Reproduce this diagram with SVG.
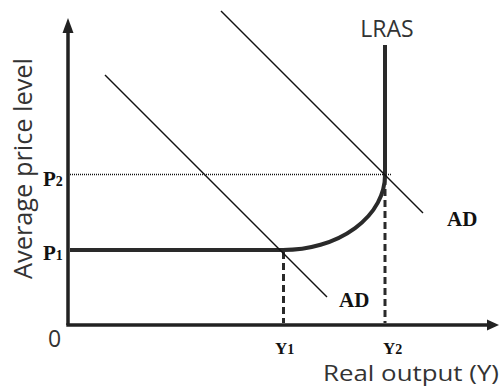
<svg xmlns="http://www.w3.org/2000/svg" width="500" height="390" viewBox="0 0 500 390">
<style>
.axis{stroke:#222;stroke-width:3.5;fill:none}
.thick{stroke:#2a2a2a;stroke-width:4;fill:none}
.ad{stroke:#111;stroke-width:1.5;fill:none}
.dash{stroke:#2a2a2a;stroke-width:3;stroke-dasharray:7,4;fill:none}
.dot{stroke:#111;stroke-width:1.5;stroke-dasharray:1,1;fill:none}
.sans{font-family:"Open Sans","Liberation Sans",sans-serif;fill:#333}
.lab{font-family:"Liberation Serif","Times New Roman",serif;font-weight:bold;fill:#111}
</style>
<rect width="500" height="390" fill="#fff"/>
<g id="axes">
<line class="axis" x1="68" y1="325" x2="68" y2="30"/>
<polygon points="68,18 62.5,33 73.5,33" fill="#222"/>
<line class="axis" x1="66.3" y1="325" x2="488" y2="325"/>
<polygon points="499,325 487,319.5 487,330.5" fill="#222"/>
<text class="sans" x="54.5" y="347" font-size="23" text-anchor="middle">0</text>
<text class="sans" font-size="25" transform="translate(32,279) rotate(-90)" textLength="221" lengthAdjust="spacingAndGlyphs">Average price level</text>
<text class="sans" x="323" y="381" font-size="22" textLength="176" lengthAdjust="spacingAndGlyphs">Real output (Y)</text>
</g>
<g id="connectors">
<line class="dot" x1="70" y1="174.5" x2="392" y2="174.5"/>
<line class="dash" x1="283.5" y1="252" x2="283.5" y2="323"/>
<line class="dash" x1="385" y1="178" x2="385" y2="323"/>
</g>
<g id="SRAS">
<path class="thick" d="M70,250 H283 A102,75 0 0 0 385,175 V45"/>
<text class="sans" x="387" y="37" font-size="23" text-anchor="middle">LRAS</text>
</g>
<g id="AD1">
<line class="ad" x1="105" y1="75" x2="327" y2="297"/>
<text class="lab" x="339" y="307" font-size="21">AD</text>
</g>
<g id="AD2">
<line class="ad" x1="221" y1="11" x2="423" y2="213"/>
<text class="lab" x="447" y="226" font-size="21">AD</text>
</g>
<g id="labels">
<text class="lab" x="43" y="186" font-size="21">P<tspan font-size="14">2</tspan></text>
<text class="lab" x="43" y="260" font-size="21">P<tspan font-size="14">1</tspan></text>
<text class="lab" x="275" y="354" font-size="17">Y<tspan font-size="14">1</tspan></text>
<text class="lab" x="383" y="354" font-size="17">Y<tspan font-size="14">2</tspan></text>
</g>
</svg>
